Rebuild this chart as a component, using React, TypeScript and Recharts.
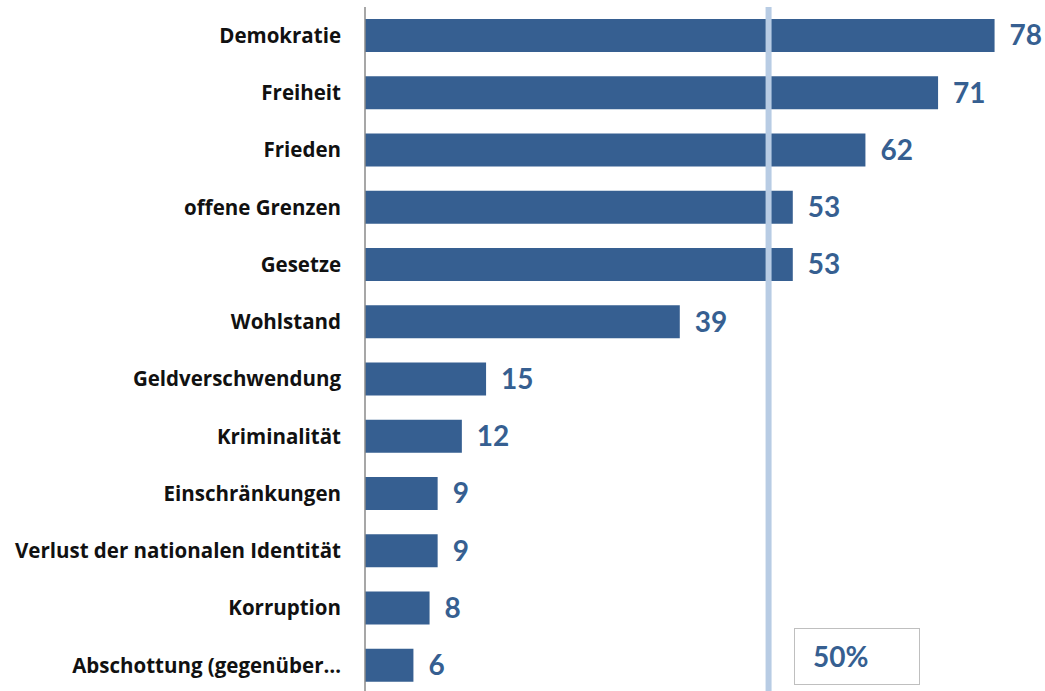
import { Bar, BarChart, LabelList, ReferenceLine, XAxis, YAxis } from "recharts";

const categories = [
  "Demokratie",
  "Freiheit",
  "Frieden",
  "offene Grenzen",
  "Gesetze",
  "Wohlstand",
  "Geldverschwendung",
  "Kriminalität",
  "Einschränkungen",
  "Verlust der nationalen Identität",
  "Korruption",
  "Abschottung (gegenüber…",
];

const values = [78, 71, 62, 53, 53, 39, 15, 12, 9, 9, 8, 6];

const thresholdValue = 50;
const thresholdLabel = "50%";

const BAR_COLOR = "#365f91";
const FONT = "Lato, 'Open Sans', sans-serif";
const LABEL_FONT = "'Open Sans', Lato, sans-serif";

export default function App() {
  const data = categories.map((name, i) => ({ name, value: values[i] }));

  return (
    <div
      style={{
        position: "absolute",
        left: 0,
        top: 0,
        width: 1045,
        height: 691,
        overflow: "hidden",
        background: "#fff",
        fontFamily: FONT,
      }}
    >
      <BarChart
        width={1045}
        height={694}
        data={data}
        layout="vertical"
        margin={{ top: 7, right: 2, left: 0, bottom: 0 }}
      >
        <XAxis type="number" domain={[0, 84]} hide />
        <YAxis
          type="category"
          dataKey="name"
          width={365}
          tickLine={false}
          tickSize={24}
          tickMargin={0}
          axisLine={{ stroke: "#8a8a8a", strokeWidth: 1.5 }}
          tick={{ fill: "#111", fontSize: 20.5, fontWeight: 700, fontFamily: LABEL_FONT }}
          interval={0}
        />
        <Bar dataKey="value" fill={BAR_COLOR} barSize={33} isAnimationActive={false}>
          <LabelList
            dataKey="value"
            position="right"
            offset={15}
            fill={BAR_COLOR}
            fontSize={28}
            fontWeight={700}
            fontFamily={FONT}
          />
        </Bar>
        <ReferenceLine x={thresholdValue} stroke="#b8cce4" strokeWidth={6} />
      </BarChart>
      <div
        style={{
          position: "absolute",
          left: 794,
          top: 628,
          width: 126,
          height: 57,
          border: "1.5px solid #bfbfbf",
          boxSizing: "border-box",
          color: BAR_COLOR,
          fontSize: 28,
          fontWeight: 700,
          paddingLeft: 18,
          lineHeight: "54px",
          background: "#fff",
        }}
      >
        {thresholdLabel}
      </div>
    </div>
  );
}
